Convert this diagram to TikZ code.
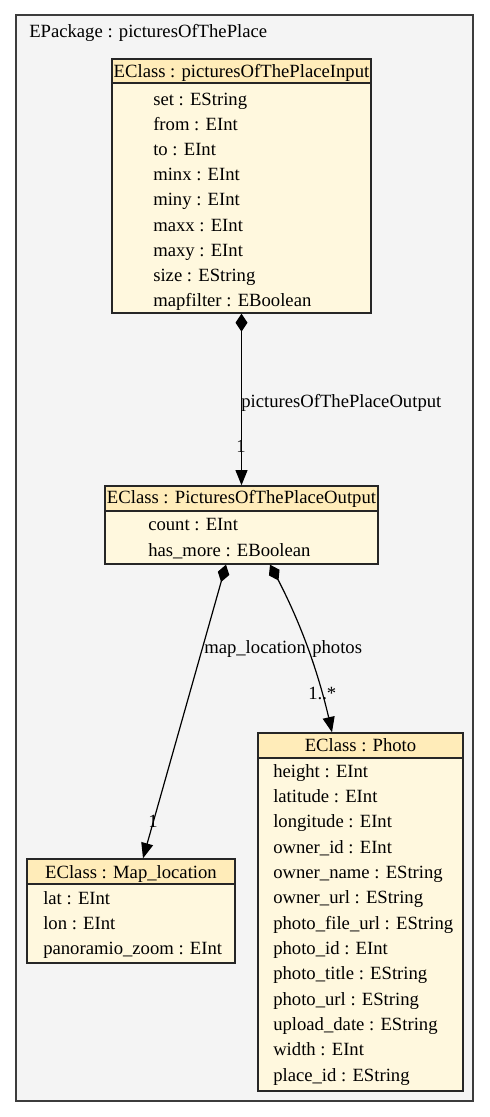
\documentclass[tikz,border=0pt]{standalone}
\usepackage{fontspec}
\setmainfont{Liberation Serif}
\usetikzlibrary{arrows.meta,calc,fit,bending}
\definecolor{pkgfill}{RGB}{244,244,244}
\definecolor{pkgline}{RGB}{60,60,60}
\definecolor{headfill}{RGB}{255,236,185}
\definecolor{bodyfill}{RGB}{255,248,222}
\begin{document}
\begin{tikzpicture}[x=0.75pt,y=-0.75pt,
  font=\fontsize{14}{16}\selectfont,
  pkg/.style={draw=pkgline, fill=pkgfill, line width=1pt, inner sep=0pt},
  classbox/.style={draw=black!85, fill=bodyfill, line width=1pt, inner sep=0pt},
  headbox/.style={draw=black!85, fill=headfill, line width=1pt, inner sep=0pt},
  txt/.style={anchor=base west, inner sep=0pt},
  htxt/.style={anchor=base, inner sep=0pt},
  lbl/.style={anchor=base west, inner sep=0pt},
  clbl/.style={anchor=base, inner sep=0pt},
  assoc/.style={line width=0.9pt,
    {Diamond[length=13.5pt,width=9pt]}-{Triangle[length=11.5pt,width=9pt]}}]
\useasboundingbox (0,0) rectangle (489,1117);

% package frame
\node[pkg, fit={(16,15)(473,1101)}] (pkg) {};
\node[lbl] (pkgname) at (29,37) {EPackage : picturesOfThePlace};

% class picturesOfThePlaceInput
\node[classbox, fit={(112,59)(371,313)}] (input) {};
\node[headbox, fit={(112,59)(371,83)}] (inputhead) {};
\node[htxt] (inputtitle) at (241.5,77) {EClass : picturesOfThePlaceInput};
\foreach \t [count=\i] in {set : EString, from : EInt, to : EInt, minx : EInt,
    miny : EInt, maxx : EInt, maxy : EInt, size : EString, mapfilter : EBoolean}
  \node[txt] (inattr\i) at (153,{105+25.2*(\i-1)}) {\t};

% class PicturesOfThePlaceOutput
\node[classbox, fit={(105,486)(378,564)}] (output) {};
\node[headbox, fit={(105,486)(378,511)}] (outputhead) {};
\node[htxt] (outputtitle) at (241.5,503) {EClass : PicturesOfThePlaceOutput};
\foreach \t [count=\i] in {count : EInt, has\_more : EBoolean}
  \node[txt] (outattr\i) at (148,{530+26*(\i-1)}) {\t};

% class Map_location
\node[classbox, fit={(27,859)(235,963)}] (maploc) {};
\node[headbox, fit={(27,859)(235,884)}] (maplochead) {};
\node[htxt] (mapioctitle) at (131,878) {EClass : Map\_location};
\foreach \t [count=\i] in {lat : EInt, lon : EInt, panoramio\_zoom : EInt}
  \node[txt] (mapattr\i) at (43,{904+25.2*(\i-1)}) {\t};

% class Photo
\node[classbox, fit={(258,733)(463,1091)}] (photo) {};
\node[headbox, fit={(258,733)(463,758)}] (photohead) {};
\node[htxt] (phototitle) at (360.5,751) {EClass : Photo};
\foreach \t [count=\i] in {height : EInt, latitude : EInt, longitude : EInt,
    owner\_id : EInt, owner\_name : EString, owner\_url : EString,
    photo\_file\_url : EString, photo\_id : EInt, photo\_title : EString,
    photo\_url : EString, upload\_date : EString, width : EInt, place\_id : EString}
  \node[txt] (phattr\i) at (273,{777+25.35*(\i-1)}) {\t};

% containment references
\draw[assoc] (input.south) -- (output.north);
\node[lbl] (reflbl1) at (241,407) {picturesOfThePlaceOutput};
\node[clbl] (mult1) at (241,452) {1};

\coordinate (mapsrc) at ($(output.south)+(-15.5,0)$);
\coordinate (mapdst) at ($(maploc.north)+(12,0)$);
\draw[assoc] (mapsrc) -- (mapdst);
\node[lbl] (reflbl2) at (204,653) {map\_location};
\node[clbl] (mult2) at (153,827) {1};

\coordinate (phsrc) at ($(output.south)+(28.5,0)$);
\coordinate (phdst) at ($(photo.north)+(-28.5,0)$);
\draw[assoc] (phsrc) .. controls +(30,54) and +(-12,-57) .. (phdst);
\node[lbl] (reflbl3) at (312,653) {photos};
\node[lbl] (mult3) at (308,699) {1..*};
\end{tikzpicture}
\end{document}
